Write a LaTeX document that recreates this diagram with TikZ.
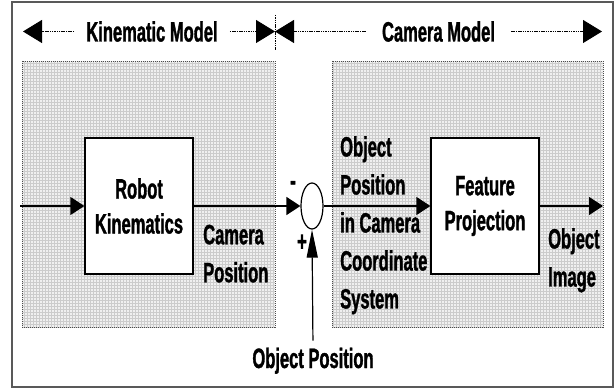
\documentclass[tikz,border=0pt]{standalone}
\usepackage{fontspec}
\setmainfont{Liberation Sans}[FakeStretch=0.59,BoldFeatures={FakeBold=1.2}]
\usetikzlibrary{shapes.geometric,arrows.meta}
\begin{document}
\begin{tikzpicture}[x=1pt,y=-1pt,
  frame/.style={draw=black!65,line width=2pt},
  region/.style={draw=black!70,line width=0.8pt,dash pattern=on 1pt off 1pt},
  blockbox/.style={draw=black,line width=1.3pt,fill=white,minimum width=108pt,minimum height=136pt,inner sep=0pt,
    font=\fontsize{28}{35}\selectfont\bfseries,align=center},
  lbl/.style={font=\fontsize{28}{38}\selectfont\bfseries,inner sep=0pt,align=left},
  toptext/.style={font=\fontsize{28}{34}\selectfont\bfseries,inner ysep=0pt},
  dline/.style={line width=0.9pt,dash pattern=on 1.5pt off 0.8pt},
  bighead/.style={-{Triangle[length=19pt,width=23pt]}},
  conn/.style={line width=1.3pt,-{Triangle[length=14pt,width=18pt]}},
  sumnode/.style={ellipse,draw=black,line width=1.2pt,fill=white,minimum width=22pt,minimum height=46pt,inner sep=0pt}
]
\useasboundingbox (0,0) rectangle (616,390);
\fill[white] (0,0) rectangle (616,390);
\draw[frame] (12,2) rectangle (613,387);

% shaded regions
\foreach \xa/\xb in {22/275,332/603}{
  \fill[black!6] (\xa,61) rectangle (\xb,327);
  \begin{scope}
    \clip (\xa,61) rectangle (\xb,327);
    \draw[black!20,line width=0.9pt,step=3pt] (\xa,61) grid (\xb,327);
  \end{scope}
  \draw[region] (\xa,61) rectangle (\xb,327);
}

% top headers
\coordinate (kl) at (23,32);
\coordinate (mid) at (275,32);
\coordinate (cr) at (602,32);
\node[toptext,inner xsep=12pt,anchor=base] (km) at (152,41.5) {Kinematic Model};
\node[toptext,inner xsep=16pt,anchor=base] (cm) at (438.5,41.5) {Camera Model};
\draw[dline,bighead] (km.west) -- (km.west -| kl);
\draw[dline,bighead] (km.east) -- (km.east -| mid);
\draw[dline,bighead] (cm.west) -- (cm.west -| mid);
\draw[dline,bighead] (cm.east) -- (cm.east -| cr);
\draw[dline] (275,15) -- (275,50);

% blocks
\node[blockbox] (rk) at (139,206) {Robot\\Kinematics};
\node[blockbox] (fp) at (485,206) {Feature\\Projection};
\node[sumnode] (sum) at (312,206) {};
\coordinate (in) at (20,206);
\coordinate (out) at (603,206);

\draw[conn] (in) -- (rk.west);
\draw[conn] (rk.east) -- (sum.west);
\draw[conn] (sum.east) -- (fp.west);
\draw[conn] (fp.east) -- (out);

% labels
\node[lbl,anchor=north west] (campos) at (203,224.5) {Camera\\Position};
\node[lbl,anchor=north west] (objcam) at (340,136) {Object\\Position\\in Camera\\Coordinate\\System};
\node[lbl,anchor=north west] (objimg) at (548,228) {Object\\Image};
\node[lbl,anchor=base] (minus) at (293,190) {-};
\node[lbl,anchor=base] (plus) at (302,251) {+};
\node[lbl,anchor=base] (op) at (313,368) {Object Position};
\draw[line width=1.2pt,-{Triangle[length=28pt,width=11pt]},shorten <=7pt] (op.north) -- (sum.south);
\end{tikzpicture}
\end{document}
